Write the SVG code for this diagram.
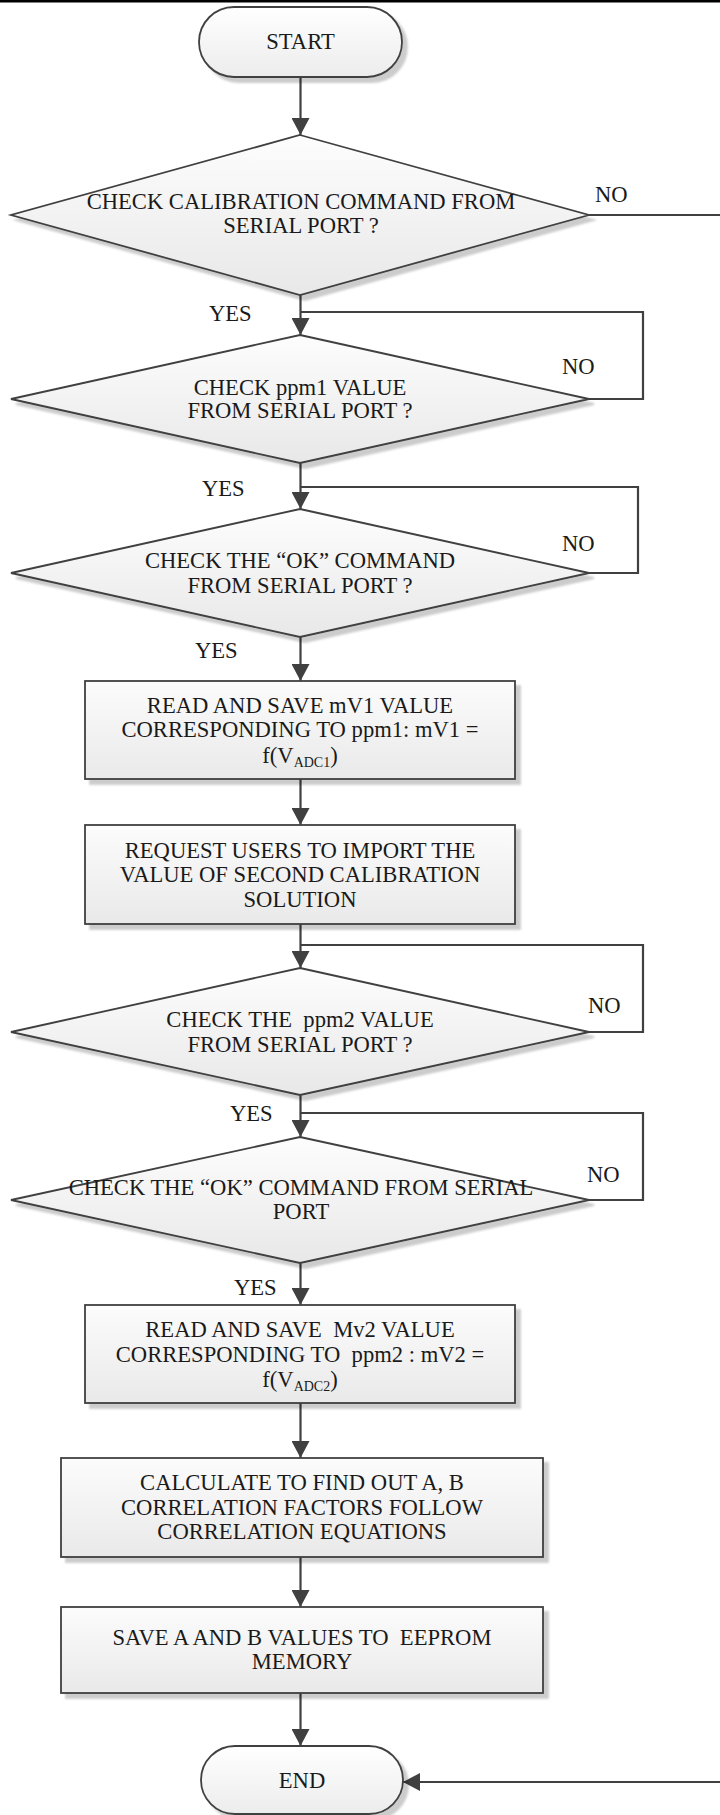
<svg xmlns="http://www.w3.org/2000/svg" width="720" height="1815" viewBox="0 0 720 1815">
  <defs>
    <style>
      text { font-family: "Liberation Serif", "Times New Roman", serif; font-size: 22.6px; fill: #1a1a1a; white-space: pre; }
      .c { text-anchor: middle; }
      .sub { font-size: 14px; }
      .shape { stroke: #404040; stroke-width: 1.8; filter: url(#shadow); }
      .box { fill: url(#gBox); }
      .dia { fill: url(#gDia); }
      .term { fill: url(#gTerm); }
      .wire { fill: none; stroke: #404040; stroke-width: 2.2; }
    </style>
    <linearGradient id="gBox" x1="0" y1="0" x2="0" y2="1">
      <stop offset="0" stop-color="#fcfcfc"/>
      <stop offset="1" stop-color="#e9e9e9"/>
    </linearGradient>
    <linearGradient id="gDia" x1="0" y1="0" x2="0" y2="1">
      <stop offset="0" stop-color="#fdfdfd"/>
      <stop offset="1" stop-color="#e8e8e8"/>
    </linearGradient>
    <linearGradient id="gTerm" x1="0" y1="0" x2="0" y2="1">
      <stop offset="0" stop-color="#ffffff"/>
      <stop offset="1" stop-color="#ececec"/>
    </linearGradient>
    <filter id="shadow" x="-5%" y="-5%" width="115%" height="125%">
      <feGaussianBlur in="SourceAlpha" stdDeviation="1.2"/>
      <feOffset dx="5" dy="5" result="off"/>
      <feFlood flood-color="#000" flood-opacity="0.2"/>
      <feComposite in2="off" operator="in"/>
      <feMerge>
        <feMergeNode/>
        <feMergeNode in="SourceGraphic"/>
      </feMerge>
    </filter>
    <marker id="arrow" markerUnits="userSpaceOnUse" markerWidth="18" markerHeight="18" refX="17" refY="9" orient="auto">
      <path d="M0,0 L17,9 L0,18 Z" fill="#404040"/>
    </marker>
  </defs>

  <rect x="0" y="0" width="720" height="2.5" fill="#000"/>

  <!-- connectors -->
  <g id="connectors">
    <line class="wire" x1="300.5" y1="77" x2="300.5" y2="135" marker-end="url(#arrow)"/>
    <polyline class="wire" points="589,215 722,215"/>
    <line class="wire" x1="300.5" y1="295" x2="300.5" y2="335" marker-end="url(#arrow)"/>
    <polyline class="wire" points="589,399 643,399 643,312 300.5,312"/>
    <line class="wire" x1="300.5" y1="463" x2="300.5" y2="509" marker-end="url(#arrow)"/>
    <polyline class="wire" points="589,573 638,573 638,487 300.5,487"/>
    <line class="wire" x1="300.5" y1="637" x2="300.5" y2="681" marker-end="url(#arrow)"/>
    <line class="wire" x1="300.5" y1="779" x2="300.5" y2="825" marker-end="url(#arrow)"/>
    <line class="wire" x1="300.5" y1="924" x2="300.5" y2="968" marker-end="url(#arrow)"/>
    <polyline class="wire" points="589,1032 643,1032 643,945 300.5,945"/>
    <line class="wire" x1="300.5" y1="1095" x2="300.5" y2="1137" marker-end="url(#arrow)"/>
    <polyline class="wire" points="589,1200 643,1200 643,1113 300.5,1113"/>
    <line class="wire" x1="300.5" y1="1263" x2="300.5" y2="1305" marker-end="url(#arrow)"/>
    <line class="wire" x1="300.5" y1="1403" x2="300.5" y2="1458" marker-end="url(#arrow)"/>
    <line class="wire" x1="300.5" y1="1557" x2="300.5" y2="1607" marker-end="url(#arrow)"/>
    <line class="wire" x1="300.5" y1="1693" x2="300.5" y2="1746" marker-end="url(#arrow)"/>
    <line class="wire" x1="722" y1="1782" x2="403" y2="1782" marker-end="url(#arrow)"/>

    <text x="595" y="202">NO</text>
    <text x="209" y="321">YES</text>
    <text x="562" y="374">NO</text>
    <text x="202" y="496">YES</text>
    <text x="562" y="551">NO</text>
    <text x="195" y="658">YES</text>
    <text x="588" y="1013">NO</text>
    <text x="230" y="1121">YES</text>
    <text x="587" y="1182">NO</text>
    <text x="234" y="1295">YES</text>
  </g>

  <g id="start">
    <rect class="shape term" x="199" y="7" width="203" height="70" rx="35"/>
    <text class="c" x="300.5" y="49">START</text>
  </g>

  <g id="check-calibration">
    <polygon class="shape dia" points="300,135 589,215 300,295 11,215"/>
    <text class="c" x="301" y="209">CHECK CALIBRATION COMMAND FROM</text>
    <text class="c" x="301" y="233">SERIAL PORT ?</text>
  </g>

  <g id="check-ppm1">
    <polygon class="shape dia" points="300,335 589,399 300,463 11,399"/>
    <text class="c" x="300" y="395">CHECK ppm1 VALUE</text>
    <text class="c" x="300" y="418">FROM SERIAL PORT ?</text>
  </g>

  <g id="check-ok1">
    <polygon class="shape dia" points="300,509 589,573 300,637 11,573"/>
    <text class="c" x="300" y="568">CHECK THE “OK” COMMAND</text>
    <text class="c" x="300" y="593">FROM SERIAL PORT ?</text>
  </g>

  <g id="save-mv1">
    <rect class="shape box" x="85" y="681" width="430" height="98"/>
    <text class="c" x="300" y="713">READ AND SAVE mV1 VALUE</text>
    <text class="c" x="300" y="737">CORRESPONDING TO ppm1: mV1 =</text>
    <text class="c" x="300" y="763">f(V<tspan class="sub" dy="4">ADC1</tspan><tspan dy="-4">)</tspan></text>
  </g>

  <g id="request-ppm2">
    <rect class="shape box" x="85" y="825" width="430" height="99"/>
    <text class="c" x="300" y="858">REQUEST USERS TO IMPORT THE</text>
    <text class="c" x="300" y="882">VALUE OF SECOND CALIBRATION</text>
    <text class="c" x="300" y="907">SOLUTION</text>
  </g>

  <g id="check-ppm2">
    <polygon class="shape dia" points="300,968 589,1032 300,1095 11,1032"/>
    <text class="c" x="300" y="1027">CHECK THE  ppm2 VALUE</text>
    <text class="c" x="300" y="1052">FROM SERIAL PORT ?</text>
  </g>

  <g id="check-ok2">
    <polygon class="shape dia" points="300,1137 589,1200 300,1263 11,1200"/>
    <text class="c" x="301" y="1195">CHECK THE “OK” COMMAND FROM SERIAL</text>
    <text class="c" x="301" y="1219">PORT</text>
  </g>

  <g id="save-mv2">
    <rect class="shape box" x="85" y="1305" width="430" height="98"/>
    <text class="c" x="300" y="1337">READ AND SAVE  Mv2 VALUE</text>
    <text class="c" x="300" y="1362">CORRESPONDING TO  ppm2 : mV2 =</text>
    <text class="c" x="300" y="1387">f(V<tspan class="sub" dy="4">ADC2</tspan><tspan dy="-4">)</tspan></text>
  </g>

  <g id="calculate">
    <rect class="shape box" x="61" y="1458" width="482" height="99"/>
    <text class="c" x="302" y="1490">CALCULATE TO FIND OUT A, B</text>
    <text class="c" x="302" y="1515">CORRELATION FACTORS FOLLOW</text>
    <text class="c" x="302" y="1539">CORRELATION EQUATIONS</text>
  </g>

  <g id="save-eeprom">
    <rect class="shape box" x="61" y="1607" width="482" height="86"/>
    <text class="c" x="302" y="1645">SAVE A AND B VALUES TO  EEPROM</text>
    <text class="c" x="302" y="1669">MEMORY</text>
  </g>

  <g id="end">
    <rect class="shape term" x="201" y="1746" width="202" height="68" rx="34"/>
    <text class="c" x="302" y="1788">END</text>
  </g>
</svg>
